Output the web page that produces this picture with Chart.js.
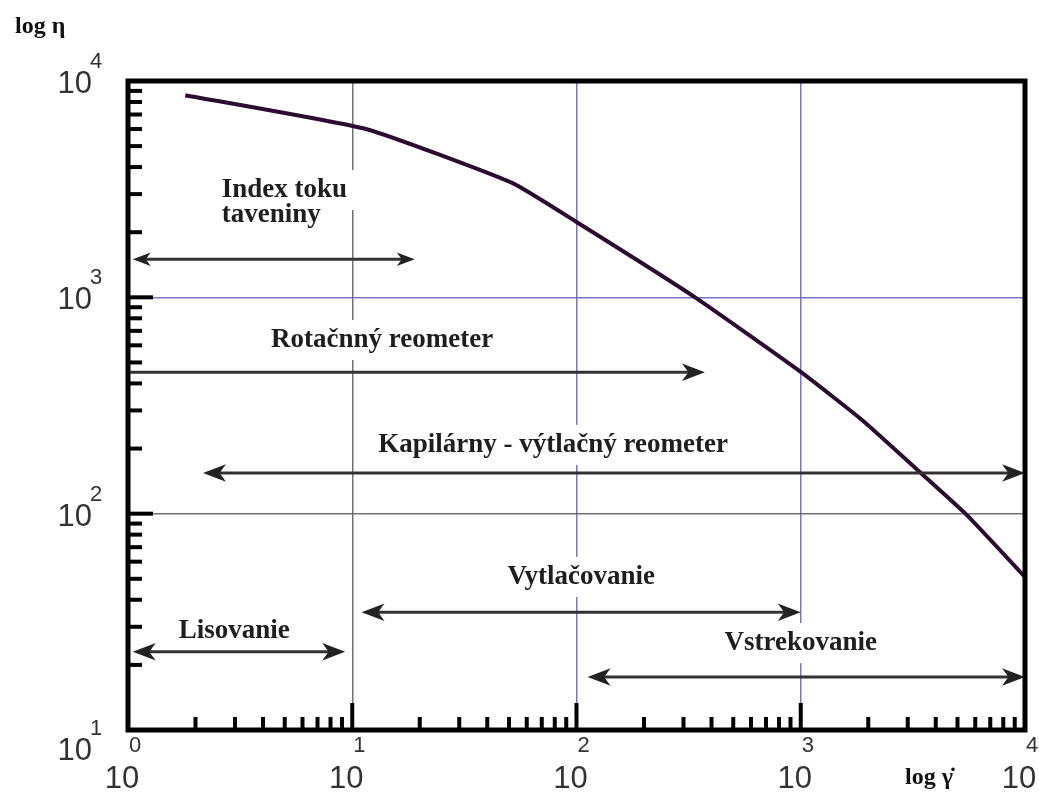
<!DOCTYPE html>
<html>
<head>
<meta charset="utf-8">
<script src="https://cdn.jsdelivr.net/npm/chart.js@4.4.1/dist/chart.umd.min.js"></script>
<style>
  html, body { margin: 0; padding: 0; background: #fff; }
  #wrap { width: 1039px; height: 792px; }
</style>
</head>
<body>
<div id="wrap"><canvas id="myChart" width="1039" height="792"></canvas></div>
<script>
// flow curve: shear rate vs viscosity
const shearRate = [1.8, 11.5, 51.6, 100, 338, 1000, 1876, 3510, 5510, 10000];
const viscosity = [8600, 6000, 3380, 2230, 1000, 452, 271, 151, 98.5, 51];

// axis decades and tick exponents
const xDecades = [1, 10, 100, 1000, 10000];
const xExponents = ["0", "1", "2", "3", "4"];
const yDecades = [10, 100, 1000, 10000];
const yExponents = ["1", "2", "3", "4"];

// measuring / processing ranges (arrows)
const rangeFrom = [1.05, 1, 2.16, 11, 1.05, 112];
const rangeTo = [19, 374, 10000, 1000, 9.3, 10000];
const rangeLevel = [1500, 450, 154, 35, 23, 17.6];
const rangeHeads = ["both", "end", "both", "both", "both", "both"];

// range labels
const labelText = ["Index toku", "taveniny", "Rotačnný reometer", "Kapilárny - výtlačný reometer", "Vytlačovanie", "Lisovanie", "Vstrekovanie"];
const labelX = [2.62, 2.62, 13.6, 78.6, 105, 2.98, 1000];
const labelY = [2909, 2228, 589, 193, 47.3, 26.6, 23.4];
const labelAlign = ["left", "left", "center", "center", "center", "center", "center"];

const labelFont = 'bold 27px "Liberation Serif", "Times New Roman", serif';
const gridBlue = "rgba(105,105,185,0.9)";
const gridGray = "rgba(95,95,110,0.9)";

function arrowHead(ctx, x, y, dir, size) {
    ctx.beginPath();
    ctx.moveTo(x, y);
    ctx.lineTo(x - dir * size, y - size * 0.38);
    ctx.lineTo(x - dir * size * 0.72, y);
    ctx.lineTo(x - dir * size, y + size * 0.38);
    ctx.closePath();
    ctx.fill();
}

const decor = {
    id: "decor",
    beforeDatasetsDraw(chart) {
        // white boxes behind the labels cut the grid lines like in the original
        const { ctx, scales: { x, y } } = chart;
        ctx.save();
        ctx.font = labelFont;
        ctx.fillStyle = "#fff";
        labelText.forEach((t, i) => {
            const w = ctx.measureText(t).width;
            const px = x.getPixelForValue(labelX[i]);
            const py = y.getPixelForValue(labelY[i]);
            const left = labelAlign[i] === "left" ? px : px - w / 2;
            ctx.fillRect(left - 8, py - 27, w + 16, 40);
        });
        ctx.restore();
    },
    afterDatasetsDraw(chart) {
        const { ctx, chartArea: a, scales: { x, y } } = chart;
        ctx.save();

        // arrows
        ctx.strokeStyle = "#333";
        ctx.fillStyle = "#222";
        ctx.lineWidth = 3;
        rangeFrom.forEach((from, i) => {
            const x1 = x.getPixelForValue(from);
            const x2 = x.getPixelForValue(rangeTo[i]);
            const py = y.getPixelForValue(rangeLevel[i]);
            const size = i === 0 ? 18 : 23;
            const start = rangeHeads[i] === "both" ? x1 + 10 : x1;
            ctx.beginPath();
            ctx.moveTo(start, py);
            ctx.lineTo(x2 - 10, py);
            ctx.stroke();
            arrowHead(ctx, x2, py, 1, size);
            if (rangeHeads[i] === "both") arrowHead(ctx, x1, py, -1, size);
        });

        // labels
        ctx.font = labelFont;
        ctx.fillStyle = "#1e1e1e";
        ctx.textBaseline = "alphabetic";
        labelText.forEach((t, i) => {
            ctx.textAlign = labelAlign[i];
            ctx.fillText(t, x.getPixelForValue(labelX[i]), y.getPixelForValue(labelY[i]));
        });

        // minor + major ticks inside the frame
        ctx.fillStyle = "#000";
        for (let d = 1; d < 10000; d *= 10) {
            for (let m = 2; m <= 9; m++) {
                const px = x.getPixelForValue(d * m);
                ctx.fillRect(px - 2, a.bottom - 13, 4, 13);
            }
            if (d > 1) {
                const px = x.getPixelForValue(d);
                ctx.fillRect(px - 2, a.bottom - 27, 4, 27);
            }
        }
        for (let d = 10; d < 10000; d *= 10) {
            for (let m = 2; m <= 9; m++) {
                const py = y.getPixelForValue(d * m);
                ctx.fillRect(a.left, py - 2, 14, 4);
            }
            if (d > 10) {
                const py = y.getPixelForValue(d);
                ctx.fillRect(a.left, py - 2, 25, 4);
            }
        }

        // frame
        ctx.strokeStyle = "#000";
        ctx.lineWidth = 5;
        ctx.strokeRect(a.left, a.top, a.right - a.left, a.bottom - a.top);

        // tick labels 10^n
        ctx.fillStyle = "#333";
        xDecades.forEach((v, i) => {
            const px = x.getPixelForValue(v);
            ctx.font = '31px "Liberation Sans", Arial, sans-serif';
            ctx.textAlign = "center";
            ctx.fillText("10", px - 6, a.bottom + 58);
            ctx.font = '22px "Liberation Sans", Arial, sans-serif';
            ctx.textAlign = "left";
            ctx.fillText(xExponents[i], px + 1, a.bottom + 22);
        });
        yDecades.forEach((v, i) => {
            const py = y.getPixelForValue(v) + (v === yDecades[0] ? 30 : 12);
            ctx.font = '31px "Liberation Sans", Arial, sans-serif';
            ctx.textAlign = "right";
            ctx.fillText("10", 92, py);
            ctx.font = '22px "Liberation Sans", Arial, sans-serif';
            ctx.textAlign = "left";
            ctx.fillText(yExponents[i], 90, py - 25);
        });

        // axis titles
        ctx.fillStyle = "#111";
        ctx.font = 'bold 24px "Liberation Serif", "Times New Roman", serif';
        ctx.textAlign = "left";
        ctx.fillText("log η", 15, 33);
        ctx.fillText("log γ̇", 905, 784);
        ctx.restore();
    }
};

const data = {
    datasets: [
        {
            data: shearRate.map((v, i) => ({ x: v, y: viscosity[i] })),
            borderColor: "#2c0b30",
            borderWidth: 4,
            pointRadius: 0,
            tension: 0.15,
            fill: false,
        },
    ],
};

const config = {
    type: "line",
    data: data,
    plugins: [decor],
    options: {
        responsive: false,
        animation: false,
        layout: { padding: { left: 128, top: 81, right: 14, bottom: 62 } },
        plugins: { legend: { display: false }, tooltip: { enabled: false } },
        scales: {
            x: {
                type: "logarithmic",
                min: 1,
                max: 10000,
                afterBuildTicks: (scale) => { scale.ticks = xDecades.map(v => ({ value: v })); },
                ticks: { display: false },
                border: { display: false },
                grid: {
                    drawTicks: false,
                    lineWidth: 1.5,
                    color: (c) => {
                        const v = c.tick && c.tick.value;
                        if (v === 1 || v === 10000) return "rgba(0,0,0,0)";
                        return v === 10 ? gridGray : gridBlue;
                    },
                },
            },
            y: {
                type: "logarithmic",
                min: 10,
                max: 10000,
                afterBuildTicks: (scale) => { scale.ticks = yDecades.map(v => ({ value: v })); },
                ticks: { display: false },
                border: { display: false },
                grid: {
                    drawTicks: false,
                    lineWidth: 1.5,
                    color: (c) => {
                        const v = c.tick && c.tick.value;
                        if (v === 10 || v === 10000) return "rgba(0,0,0,0)";
                        return v === 100 ? gridGray : gridBlue;
                    },
                },
            },
        },
    },
};

const myChart = new Chart(document.getElementById("myChart").getContext("2d"), config);
</script>
</body>
</html>
